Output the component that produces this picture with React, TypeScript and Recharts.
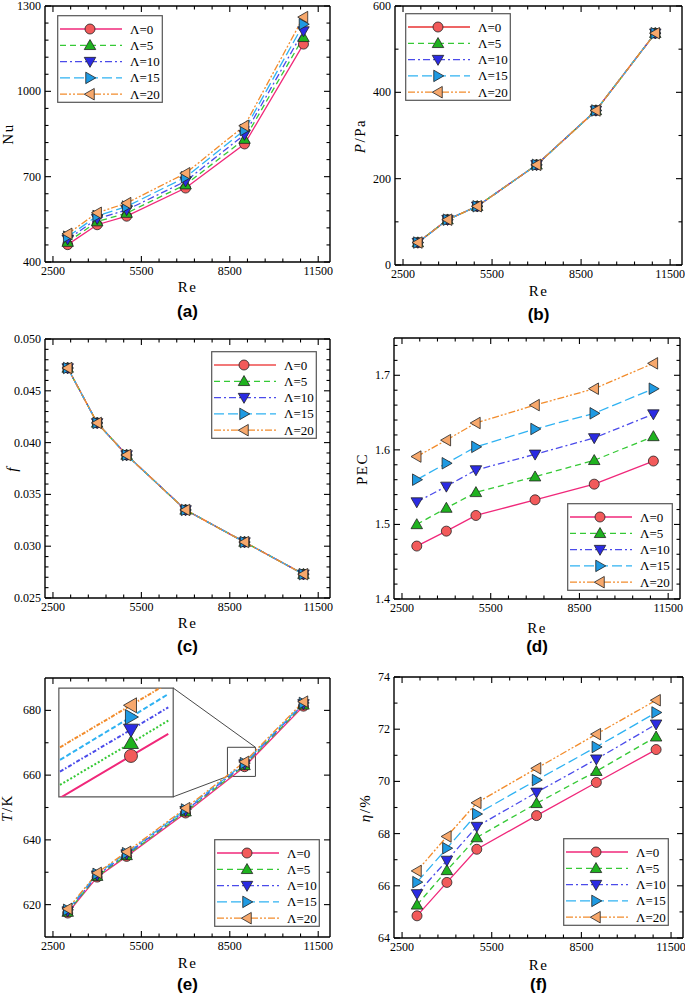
import React from "react";
import {
  LineChart,
  Line,
  XAxis,
  YAxis,
  ReferenceArea,
  ReferenceLine,
} from "recharts";

// Re values shared by every panel
const reynolds = [3000, 4000, 5000, 7000, 9000, 11000];

// (a) Nusselt number
const nuL0 = [461, 531, 561, 660, 815, 1166];
const nuL5 = [470, 542, 572, 672, 832, 1190];
const nuL10 = [480, 552, 583, 684, 848, 1212];
const nuL15 = [489, 562, 595, 698, 864, 1236];
const nuL20 = [499, 573, 607, 712, 879, 1261];

// (b) pressure drop, the five curves sit on top of each other
const pressure = [52, 105, 136, 232, 358, 537];

// (c) friction factor, also identical for every Λ
const friction = [0.0472, 0.0419, 0.0388, 0.0335, 0.0304, 0.0273];

// (d) PEC
const pecL0 = [1.471, 1.491, 1.512, 1.533, 1.554, 1.585];
const pecL5 = [1.5, 1.522, 1.543, 1.564, 1.586, 1.618];
const pecL10 = [1.53, 1.551, 1.573, 1.594, 1.616, 1.648];
const pecL15 = [1.56, 1.582, 1.604, 1.628, 1.649, 1.682];
const pecL20 = [1.591, 1.613, 1.636, 1.66, 1.682, 1.716];

// (e) temperature
const tempL0 = [617.4, 628.5, 634.9, 648.3, 662.6, 681.3];
const tempL5 = [617.7, 628.8, 635.2, 648.7, 663.0, 681.7];
const tempL10 = [618.0, 629.1, 635.6, 649.0, 663.4, 682.0];
const tempL15 = [618.4, 629.5, 635.9, 649.4, 663.7, 682.3];
const tempL20 = [618.7, 629.8, 636.3, 649.8, 664.1, 682.7];

// (f) efficiency
const etaL0 = [64.85, 66.13, 67.4, 68.69, 69.96, 71.22];
const etaL5 = [65.27, 66.59, 67.85, 69.16, 70.39, 71.71];
const etaL10 = [65.69, 66.97, 68.27, 69.58, 70.85, 72.19];
const etaL15 = [66.14, 67.44, 68.75, 70.05, 71.32, 72.64];
const etaL20 = [66.57, 67.89, 69.18, 70.5, 71.81, 73.11];

// (e) inset: the zoom box around Re=9000, as drawn (exaggerated spacing)
const insetRe = [8428, 9018, 9328];
const insetL0 = [659.5, 662.98, 664.8];
const insetL5 = [660.58, 664.05, 665.9];
const insetL10 = [661.68, 665.15, 667.0];
const insetL15 = [662.65, 666.2, 668.1];
const insetL20 = [663.69, 667.17, 669.01];

// tick values
const xMajor = [2500, 5500, 8500, 11500];
const xMinor = [3100, 3700, 4300, 4900, 6100, 6700, 7300, 7900, 9100, 9700, 10300, 10900];

const X_DOMAIN: [number, number] = [2230, 11900];

const SERIES = [
  { key: "l0", name: "Λ=0", color: "#f0287a", dash: undefined, shape: "circle", fill: "#f25a5a", insetDash: undefined },
  { key: "l5", name: "Λ=5", color: "#35c935", dash: "6 4", shape: "up", fill: "#1fb21f", insetDash: "2 2" },
  { key: "l10", name: "Λ=10", color: "#4b4bea", dash: "7 3 2 3", shape: "down", fill: "#2b2be3", insetDash: "4 2 1.5 2" },
  { key: "l15", name: "Λ=15", color: "#2fb2f2", dash: "10 4", shape: "right", fill: "#1f9ae2", insetDash: "5 2.5" },
  { key: "l20", name: "Λ=20", color: "#f28c2c", dash: "7 2 2 2 2 2", shape: "left", fill: "#f7a86c", insetDash: "4 1.5 1.5 1.5" },
];

const SERIF = "Liberation Serif";
const SANS = "Liberation Sans";

function Marker({ shape, cx, cy, fill, s = 5 }: any) {
  if (cx == null || cy == null) return null;
  const stroke = "#222";
  if (shape === "circle") {
    return <circle cx={cx} cy={cy} r={s} fill={fill} stroke={stroke} strokeWidth={0.8} />;
  }
  const a = s * 1.15;
  const b = s * 0.85;
  let d = "";
  if (shape === "up") d = `M${cx},${cy - a} L${cx + a},${cy + b} L${cx - a},${cy + b} Z`;
  if (shape === "down") d = `M${cx},${cy + a} L${cx + a},${cy - b} L${cx - a},${cy - b} Z`;
  if (shape === "right") d = `M${cx + a},${cy} L${cx - b},${cy - a} L${cx - b},${cy + a} Z`;
  if (shape === "left") d = `M${cx - a},${cy} L${cx + b},${cy - a} L${cx + b},${cy + a} Z`;
  return <path d={d} fill={fill} stroke={stroke} strokeWidth={0.8} />;
}

// ticks point inward on all four sides, labels only on bottom/left majors
function frameTick(side: string, majors: number[], fmt?: (v: number) => string) {
  return (props: any) => {
    const { x, y, payload } = props;
    const v = payload.value;
    const isMajor = majors.some((m) => Math.abs(m - v) < 1e-9);
    const len = isMajor ? 6 : 3.5;
    let x2 = x;
    let y2 = y;
    if (side === "bottom") y2 = y - len;
    if (side === "top") y2 = y + len;
    if (side === "left") x2 = x + len;
    if (side === "right") x2 = x - len;
    return (
      <g>
        <line x1={x} y1={y} x2={x2} y2={y2} stroke="#000" strokeWidth={1.1} />
        {isMajor && fmt && side === "bottom" && (
          <text x={x} y={y + 13} textAnchor="middle" fontSize={12} fontFamily={SERIF} fill="#000">
            {fmt(v)}
          </text>
        )}
        {isMajor && fmt && side === "left" && (
          <text x={x - 4} y={y + 4} textAnchor="end" fontSize={12} fontFamily={SERIF} fill="#000">
            {fmt(v)}
          </text>
        )}
      </g>
    );
  };
}

function LegendBox({ left, top, firstColor }: any) {
  const w = 106;
  const h = 88;
  return (
    <svg style={{ position: "absolute", left, top }} width={w} height={h}>
      <rect x={0.7} y={0.7} width={w - 1.4} height={h - 1.4} fill="#fff" stroke="#555" strokeWidth={1.2} />
      {SERIES.map((s, i) => {
        const y = 14 + i * 16.3;
        const color = i === 0 && firstColor ? firstColor : s.color;
        return (
          <g key={s.key}>
            <line x1={3} x2={65} y1={y} y2={y} stroke={color} strokeWidth={1.3} strokeDasharray={s.dash} />
            <Marker shape={s.shape} cx={33} cy={y} fill={s.fill} />
            <text x={73} y={y + 4.5} fontSize={13} fontFamily={SERIF} fill="#000">
              {s.name}
            </text>
          </g>
        );
      })}
    </svg>
  );
}

type Panel = {
  id: string;
  left: number;
  top: number;
  width: number;
  height: number;
  // distance from the chart edges to the plot frame
  margin: { top: number; right: number; bottom: number; left: number };
  yDomain: [number, number];
  yMajor: number[];
  yMinor: number[];
  yFmt: (v: number) => string;
  series: number[][];
  yTitle: React.ReactNode;
  yTitleDx: number;
  reDy: number;
  letter: string;
  letterY: number;
  legend: { left: number; top: number };
  firstColor?: string;
};

const PANELS: Panel[] = [
  {
    id: "a", left: 0, top: -6, width: 340, height: 313,
    margin: { top: 12, right: 10, bottom: 45, left: 45 },
    yDomain: [400, 1300], yMajor: [400, 700, 1000, 1300],
    yMinor: [460, 520, 580, 640, 760, 820, 880, 940, 1060, 1120, 1180, 1240],
    yFmt: (v) => String(v),
    series: [nuL0, nuL5, nuL10, nuL15, nuL20],
    yTitle: "Nu", yTitleDx: -37, reDy: 25, letter: "(a)", letterY: 311,
    legend: { left: 57, top: 15 },
  },
  {
    id: "b", left: 340, top: -6, width: 345, height: 316,
    margin: { top: 12, right: 3, bottom: 45, left: 55 },
    yDomain: [0, 600], yMajor: [0, 200, 400, 600], yMinor: [100, 300, 500],
    yFmt: (v) => String(v),
    series: [pressure, pressure, pressure, pressure, pressure],
    yTitle: (<><i>P</i>/Pa</>), yTitleDx: -35, reDy: 26, letter: "(b)", letterY: 314,
    legend: { left: 405, top: 13 }, firstColor: "#e83232",
  },
  {
    id: "c", left: 0, top: 320, width: 340, height: 323,
    margin: { top: 19, right: 10, bottom: 45, left: 45 },
    yDomain: [0.025, 0.05], yMajor: [0.025, 0.03, 0.035, 0.04, 0.045, 0.05],
    yMinor: [0.026, 0.027, 0.028, 0.029, 0.031, 0.032, 0.033, 0.034, 0.036, 0.037, 0.038, 0.039,
      0.041, 0.042, 0.043, 0.044, 0.046, 0.047, 0.048, 0.049],
    yFmt: (v) => v.toFixed(3),
    series: [friction, friction, friction, friction, friction],
    yTitle: <i>f</i>, yTitleDx: -33, reDy: 25, letter: "(c)", letterY: 646,
    legend: { left: 211, top: 351 }, firstColor: "#ee4b4b",
  },
  {
    id: "d", left: 340, top: 320, width: 345, height: 324,
    margin: { top: 18, right: 5, bottom: 45, left: 54 },
    yDomain: [1.4, 1.75], yMajor: [1.4, 1.5, 1.6, 1.7],
    yMinor: [1.42, 1.44, 1.46, 1.48, 1.52, 1.54, 1.56, 1.58, 1.62, 1.64, 1.66, 1.68, 1.72, 1.74],
    yFmt: (v) => v.toFixed(1),
    series: [pecL0, pecL5, pecL10, pecL15, pecL20],
    yTitle: "PEC", yTitleDx: -32, reDy: 29, letter: "(d)", letterY: 646,
    legend: { left: 567, top: 503 },
  },
  {
    id: "e", left: 0, top: 650, width: 340, height: 332,
    margin: { top: 28, right: 10, bottom: 45, left: 45 },
    yDomain: [610, 690], yMajor: [620, 640, 660, 680], yMinor: [630, 650, 670],
    yFmt: (v) => String(v),
    series: [tempL0, tempL5, tempL10, tempL15, tempL20],
    yTitle: (<><i>T</i>/K</>), yTitleDx: -38, reDy: 26, letter: "(e)", letterY: 984,
    legend: { left: 214, top: 839 },
  },
  {
    id: "f", left: 340, top: 650, width: 345, height: 333,
    margin: { top: 27, right: 2, bottom: 45, left: 54 },
    yDomain: [64, 74], yMajor: [64, 66, 68, 70, 72, 74], yMinor: [65, 67, 69, 71, 73],
    yFmt: (v) => String(v),
    series: [etaL0, etaL5, etaL10, etaL15, etaL20],
    yTitle: (<><i>η</i>/%</>), yTitleDx: -29, reDy: 27, letter: "(f)", letterY: 984,
    legend: { left: 563, top: 838 },
  },
];

// inset frame and zoom box of panel (e), in its data units
const INSET_FRAME = { re0: 2700, re1: 6580, t0: 653.3, t1: 686.9 };
const ZOOM_BOX = { re0: 8420, re1: 9370, t0: 659.6, t1: 668.6 };

// axes need a non-zero size to be drawn; the margins passed to the chart leave room for it
const AXIS = 1;

const label: React.CSSProperties = {
  position: "absolute",
  whiteSpace: "nowrap",
  lineHeight: 1,
};

function Inset({ p }: { p: Panel }) {
  const plotW = p.width - p.margin.left - p.margin.right;
  const plotH = p.height - p.margin.top - p.margin.bottom;
  const sx = (re: number) => p.left + p.margin.left + ((re - X_DOMAIN[0]) / (X_DOMAIN[1] - X_DOMAIN[0])) * plotW;
  const sy = (t: number) => p.top + p.margin.top + ((p.yDomain[1] - t) / (p.yDomain[1] - p.yDomain[0])) * plotH;
  const left = sx(INSET_FRAME.re0);
  const top = sy(INSET_FRAME.t1);
  const w = sx(INSET_FRAME.re1) - left;
  const h = sy(INSET_FRAME.t0) - top;
  const insetSeries = [insetL0, insetL5, insetL10, insetL15, insetL20];
  const rows = insetRe.map((re, i) => {
    const r: any = { re };
    SERIES.forEach((s, k) => (r[s.key] = insetSeries[k][i]));
    return r;
  });
  return (
    <div style={{ position: "absolute", left, top }}>
      <LineChart width={w} height={h} data={rows} margin={{ top: 0, right: 0, bottom: 0, left: 0 }}>
        <XAxis dataKey="re" type="number" domain={[ZOOM_BOX.re0, ZOOM_BOX.re1]} allowDataOverflow hide />
        <YAxis type="number" domain={[ZOOM_BOX.t0, ZOOM_BOX.t1]} allowDataOverflow hide />
        {SERIES.map((s) => (
          <Line
            key={s.key}
            dataKey={s.key}
            stroke={s.color}
            strokeWidth={2}
            strokeDasharray={s.insetDash}
            isAnimationActive={false}
            activeDot={false}
            dot={(d: any) =>
              d.index === 1 ? (
                <Marker key={`${s.key}-${d.index}`} shape={s.shape} cx={d.cx} cy={d.cy} fill={s.fill} s={6.5} />
              ) : (
                <g key={`${s.key}-${d.index}`} />
              )
            }
          />
        ))}
      </LineChart>
    </div>
  );
}

function PanelChart({ p }: { p: Panel }) {
  const rows = reynolds.map((re, i) => {
    const r: any = { re };
    SERIES.forEach((s, k) => (r[s.key] = p.series[k][i]));
    return r;
  });
  const xTicks = [...xMajor, ...xMinor].sort((a, b) => a - b);
  const yTicks = [...p.yMajor, ...p.yMinor].sort((a, b) => a - b);
  const frame = { stroke: "#000", strokeWidth: 1.4 };
  const plotL = p.left + p.margin.left;
  const plotR = p.left + p.width - p.margin.right;
  const plotT = p.top + p.margin.top;
  const plotB = p.top + p.height - p.margin.bottom;
  const midX = (plotL + plotR) / 2;
  const chartMargin = {
    top: p.margin.top - AXIS,
    right: p.margin.right - AXIS,
    bottom: p.margin.bottom - AXIS,
    left: p.margin.left - AXIS,
  };

  return (
    <>
      <div style={{ position: "absolute", left: p.left, top: p.top }}>
        <LineChart width={p.width} height={p.height} data={rows} margin={chartMargin}>
          <XAxis
            xAxisId="b" dataKey="re" type="number" domain={X_DOMAIN} allowDataOverflow
            ticks={xTicks} interval={0} height={AXIS} tickSize={0} tickMargin={0}
            tickLine={false} axisLine={frame} tick={frameTick("bottom", xMajor, (v) => String(v))}
          />
          <XAxis
            xAxisId="t" orientation="top" dataKey="re" type="number" domain={X_DOMAIN} allowDataOverflow
            ticks={xTicks} interval={0} height={AXIS} tickSize={0} tickMargin={0}
            tickLine={false} axisLine={frame} tick={frameTick("top", xMajor)}
          />
          <YAxis
            yAxisId="l" type="number" domain={p.yDomain} allowDataOverflow
            ticks={yTicks} interval={0} width={AXIS} tickSize={0} tickMargin={0}
            tickLine={false} axisLine={frame} tick={frameTick("left", p.yMajor, p.yFmt)}
          />
          <YAxis
            yAxisId="r" orientation="right" type="number" domain={p.yDomain} allowDataOverflow
            ticks={yTicks} interval={0} width={AXIS} tickSize={0} tickMargin={0}
            tickLine={false} axisLine={frame} tick={frameTick("right", p.yMajor)}
          />
          {p.id === "e" && (
            <ReferenceArea
              xAxisId="b" yAxisId="l"
              x1={INSET_FRAME.re0} x2={INSET_FRAME.re1} y1={INSET_FRAME.t0} y2={INSET_FRAME.t1}
              fill="#fff" fillOpacity={1} stroke="#555" strokeWidth={1.2}
            />
          )}
          {p.id === "e" && (
            <ReferenceArea
              xAxisId="b" yAxisId="l"
              x1={ZOOM_BOX.re0} x2={ZOOM_BOX.re1} y1={ZOOM_BOX.t0} y2={ZOOM_BOX.t1}
              fill="none" stroke="#444" strokeWidth={1}
            />
          )}
          {p.id === "e" && (
            <ReferenceLine
              xAxisId="b" yAxisId="l" stroke="#333" strokeWidth={0.9}
              segment={[{ x: INSET_FRAME.re1, y: INSET_FRAME.t1 }, { x: ZOOM_BOX.re1, y: ZOOM_BOX.t1 }]}
            />
          )}
          {p.id === "e" && (
            <ReferenceLine
              xAxisId="b" yAxisId="l" stroke="#333" strokeWidth={0.9}
              segment={[{ x: INSET_FRAME.re1, y: INSET_FRAME.t0 }, { x: ZOOM_BOX.re0, y: ZOOM_BOX.t0 }]}
            />
          )}
          {SERIES.map((s, i) => (
            <Line
              key={s.key}
              xAxisId="b"
              yAxisId="l"
              dataKey={s.key}
              stroke={i === 0 && p.firstColor ? p.firstColor : s.color}
              strokeWidth={1.3}
              strokeDasharray={s.dash}
              isAnimationActive={false}
              activeDot={false}
              dot={(d: any) => (
                <Marker key={`${s.key}-${d.index}`} shape={s.shape} cx={d.cx} cy={d.cy} fill={s.fill} />
              )}
            />
          ))}
        </LineChart>
      </div>

      {/* axis titles and panel letter */}
      <div
        style={{
          ...label, left: midX, top: plotB + p.reDy, transform: "translate(-50%, -50%)",
          fontFamily: SERIF, fontSize: 15, letterSpacing: 1.5,
        }}
      >
        Re
      </div>
      <div
        style={{
          ...label, left: plotL + p.yTitleDx, top: (plotT + plotB) / 2,
          transform: "translate(-50%, -50%) rotate(-90deg)",
          fontFamily: SERIF, fontSize: 15, letterSpacing: 1.5,
        }}
      >
        {p.yTitle}
      </div>
      <div
        style={{
          ...label, left: midX, top: p.letterY, transform: "translate(-50%, -50%)",
          fontFamily: SANS, fontWeight: "bold", fontSize: 17,
        }}
      >
        {p.letter}
      </div>

      <LegendBox left={p.legend.left} top={p.legend.top} firstColor={p.firstColor} />
      {p.id === "e" && <Inset p={p} />}
    </>
  );
}

export default function App() {
  return (
    <div
      style={{
        position: "absolute", left: 0, top: 0, width: 685, height: 996,
        background: "#fff", overflow: "hidden",
      }}
    >
      {PANELS.map((p) => (
        <PanelChart key={p.id} p={p} />
      ))}
    </div>
  );
}
